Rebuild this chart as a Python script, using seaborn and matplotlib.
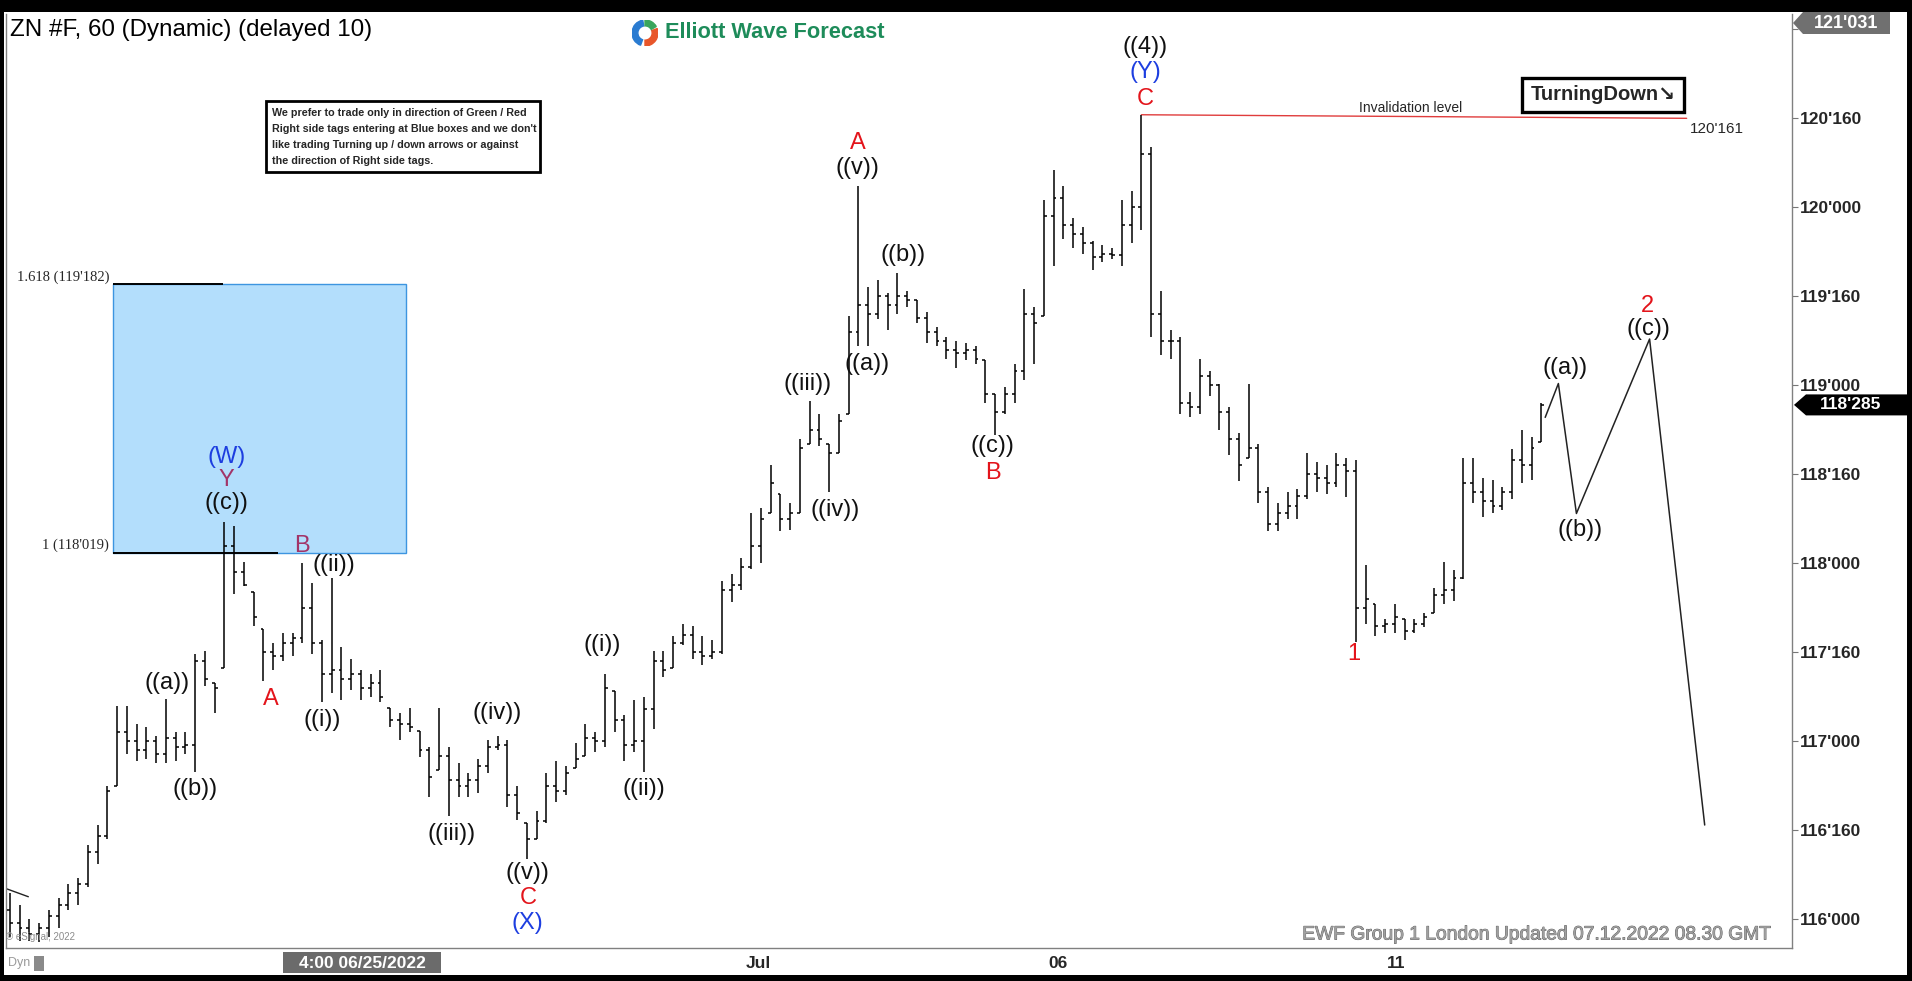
import numpy as np
import matplotlib
matplotlib.use("Agg")
import matplotlib.pyplot as plt
import seaborn as sns
from matplotlib import font_manager, transforms
from matplotlib.patches import Rectangle, Polygon, Wedge
import matplotlib.patheffects as pe

# -----------------------------
# data: 2-hour OHLC bars of ZN (10y note futures), prices in points
# -----------------------------
highs = [
    116.15, 116.08, 116.00, 115.98, 116.05, 116.12, 116.20, 116.23, 116.42, 116.53,
    116.75, 117.20, 117.20, 117.10, 117.08, 117.03, 117.24, 117.05, 117.05, 117.49,
    117.51, 117.33, 118.23, 118.21, 118.01, 117.84, 117.63, 117.55, 117.61, 117.61,
    118.00, 117.89, 117.57, 117.92, 117.53, 117.46, 117.40, 117.38, 117.40, 117.19,
    117.16, 117.19, 117.06, 116.97, 117.19, 116.97, 116.88, 116.82, 116.90, 117.01,
    117.03, 117.01, 116.75, 116.54, 116.61, 116.82, 116.89, 116.86, 116.99, 117.10,
    117.05, 117.38, 117.28, 117.15, 117.23, 117.25, 117.51, 117.51, 117.59, 117.66,
    117.65, 117.59, 117.57, 117.90, 117.94, 118.03, 118.28, 118.31, 118.55, 118.39,
    118.34, 118.70, 118.91, 118.84, 118.67, 118.84, 119.39, 120.12, 119.55, 119.59,
    119.52, 119.63, 119.53, 119.48, 119.41, 119.33, 119.27, 119.25, 119.24, 119.22,
    119.14, 118.95, 118.99, 119.12, 119.54, 119.44, 120.04, 120.21, 120.12, 119.94,
    119.89, 119.81, 119.79, 119.77, 120.04, 120.09, 120.52, 120.34, 119.53, 119.31,
    119.27, 118.96, 119.15, 119.08, 119.01, 118.88, 118.73, 119.01, 118.67, 118.43,
    118.34, 118.40, 118.42, 118.62, 118.57, 118.55, 118.62, 118.59, 118.58, 117.99,
    117.77, 117.69, 117.77, 117.69, 117.69, 117.72, 117.86, 118.01, 117.96, 118.59,
    118.59, 118.48, 118.47, 118.43, 118.64, 118.75, 118.71, 118.90,
]
lows = [
    115.90, 115.88, 115.88, 115.87, 115.90, 115.95, 116.05, 116.08, 116.18, 116.31,
    116.45, 116.75, 116.93, 116.89, 116.90, 116.88, 116.88, 116.89, 116.93, 116.83,
    117.31, 117.16, 117.41, 117.83, 117.87, 117.65, 117.34, 117.40, 117.45, 117.48,
    117.55, 117.49, 117.22, 117.27, 117.23, 117.29, 117.23, 117.25, 117.22, 117.08,
    117.01, 117.05, 116.91, 116.69, 116.84, 116.58, 116.69, 116.69, 116.71, 116.82,
    116.95, 116.63, 116.56, 116.34, 116.45, 116.54, 116.66, 116.70, 116.85, 116.92,
    116.94, 116.97, 117.05, 116.89, 116.94, 116.83, 117.07, 117.36, 117.41, 117.54,
    117.46, 117.43, 117.46, 117.49, 117.78, 117.85, 117.97, 118.00, 118.28, 118.18,
    118.19, 118.28, 118.67, 118.66, 118.40, 118.62, 118.84, 119.22, 119.22, 119.37,
    119.31, 119.40, 119.44, 119.35, 119.24, 119.22, 119.15, 119.10, 119.14, 119.12,
    118.90, 118.72, 118.84, 118.90, 119.03, 119.12, 119.39, 119.67, 119.82, 119.77,
    119.74, 119.65, 119.69, 119.71, 119.67, 119.80, 119.87, 119.27, 119.17, 119.15,
    118.84, 118.82, 118.84, 118.94, 118.75, 118.61, 118.46, 118.59, 118.34, 118.18,
    118.18, 118.25, 118.25, 118.36, 118.40, 118.39, 118.43, 118.37, 117.56, 117.66,
    117.59, 117.61, 117.61, 117.57, 117.61, 117.64, 117.72, 117.77, 117.79, 117.91,
    118.34, 118.26, 118.28, 118.30, 118.36, 118.45, 118.47, 118.68,
]
closes = [
    115.98, 115.95, 115.92, 115.95, 116.02, 116.08, 116.15, 116.20, 116.38, 116.47,
    116.72, 117.05, 117.00, 116.95, 117.00, 116.93, 117.02, 116.97, 116.98, 117.45,
    117.35, 117.30, 118.10, 117.95, 117.88, 117.70, 117.50, 117.48, 117.55, 117.58,
    117.75, 117.55, 117.38, 117.40, 117.35, 117.38, 117.30, 117.33, 117.25, 117.12,
    117.10, 117.08, 116.95, 116.80, 116.92, 116.78, 116.75, 116.78, 116.86, 116.97,
    116.98, 116.70, 116.60, 116.45, 116.55, 116.75, 116.72, 116.82, 116.90, 117.02,
    117.00, 117.30, 117.12, 116.98, 117.00, 117.18, 117.45, 117.40, 117.55, 117.60,
    117.50, 117.48, 117.50, 117.85, 117.88, 117.98, 118.10, 118.25, 118.45, 118.25,
    118.28, 118.65, 118.75, 118.70, 118.62, 118.80, 119.30, 119.45, 119.40, 119.50,
    119.45, 119.50, 119.48, 119.38, 119.30, 119.25, 119.20, 119.18, 119.20, 119.15,
    118.95, 118.85, 118.95, 119.08, 119.40, 119.35, 119.95, 120.05, 119.90, 119.85,
    119.80, 119.72, 119.74, 119.73, 119.90, 120.00, 120.30, 119.40, 119.25, 119.25,
    118.90, 118.88, 119.05, 119.00, 118.85, 118.70, 118.55, 118.65, 118.40, 118.22,
    118.28, 118.32, 118.38, 118.50, 118.48, 118.45, 118.55, 118.52, 117.75, 117.80,
    117.65, 117.66, 117.70, 117.62, 117.66, 117.70, 117.82, 117.85, 117.92, 118.45,
    118.40, 118.35, 118.32, 118.40, 118.58, 118.55, 118.65, 118.89,
]
first_open = 116.05

# price axis (32nds notation); 121'000 sits under the 121'031 tag
price_ticks = [116.0, 116.5, 117.0, 117.5, 118.0, 118.5, 119.0, 119.5, 120.0, 120.5, 121.0]
price_labels = ["116'000", "116'160", "117'000", "117'160", "118'000", "118'160",
                "119'000", "119'160", "120'000", "120'160", ""]

# date axis (bar positions)
date_ticks = [36.4, 76.75, 107.5, 142.1]
date_labels = ["", "Jul", "06", "11"]

# blue box (fib extension area)
box_bottom, box_top = 118.059, 119.569
box_start, box_end = 10.6, 40.6

# invalidation
invalid_level = 120.50
last_price = 118.89

# projected path ((a)) ((b)) ((c))
proj_x = [157.4, 158.75, 160.6, 168.1, 173.75]
proj_y = [118.82, 119.01, 118.28, 119.26, 116.53]

BLACK, RED, BLUE, PURPLE = "#111111", "#e3141b", "#1d3ee0", "#a23468"
waves = [
    (22.25, 118.60, "(W)", BLUE), (22.25, 118.47, "Y", PURPLE), (22.25, 118.34, "((c))", BLACK),
    (16.1, 117.33, "((a))", BLACK), (19.0, 116.73, "((b))", BLACK),
    (26.75, 117.24, "A", RED), (29.9, 118.10, "B", PURPLE),
    (33.25, 117.99, "((ii))", BLACK), (32.0, 117.12, "((i))", BLACK),
    (45.25, 116.48, "((iii))", BLACK), (50.0, 117.16, "((iv))", BLACK),
    (53.1, 116.26, "((v))", BLACK), (53.1, 116.12, "C", RED), (53.1, 115.98, "(X)", BLUE),
    (60.75, 117.54, "((i))", BLACK), (65.0, 116.73, "((ii))", BLACK),
    (81.75, 119.01, "((iii))", BLACK), (84.6, 118.30, "((iv))", BLACK),
    (86.9, 120.36, "A", RED), (86.9, 120.22, "((v))", BLACK),
    (87.9, 119.12, "((a))", BLACK), (91.6, 119.73, "((b))", BLACK),
    (100.75, 118.66, "((c))", BLACK), (100.75, 118.51, "B", RED),
    (116.4, 120.90, "((4))", BLACK), (116.4, 120.76, "(Y)", BLUE), (116.4, 120.61, "C", RED),
    (137.75, 117.49, "1", RED),
    (159.4, 119.10, "((a))", BLACK), (161.0, 118.19, "((b))", BLACK),
    (167.9, 119.445, "2", RED), (168.0, 119.315, "((c))", BLACK),
]

# -----------------------------
# style
# -----------------------------
sns.set_style("white")
plt.rcParams['font.family'] = ['Liberation Sans', 'DejaVu Sans']
names = {f.name for f in font_manager.fontManager.ttflist}
narrow = 'Liberation Sans Narrow' if 'Liberation Sans Narrow' in names else 'Liberation Sans'

W, H = 1912, 981
def fx(px):
    return px / W
def fy(py):
    return 1 - py / H

fig = plt.figure(figsize=(W / 100, H / 100), dpi=100, facecolor="black")
fig.add_artist(Rectangle((fx(4), fy(975)), (1907 - 4) / W, (975 - 12) / H,
                         transform=fig.transFigure, facecolor="white",
                         edgecolor="none", zorder=-5))
ax = fig.add_axes([fx(6), fy(948), (1792 - 6) / W, (948 - 14) / H])
ax.set_facecolor("white")

# -----------------------------
# OHLC bars
# -----------------------------
idx = np.arange(len(highs))
opens = np.clip([first_open] + closes[:-1], lows, highs)
ax.vlines(idx, lows, highs, color="black", lw=1.1, zorder=3)
ax.hlines(opens, idx - 0.3, idx, color="black", lw=1.1, zorder=3)
ax.hlines(closes, idx, idx + 0.3, color="black", lw=1.1, zorder=3)

# small trendline stub at the start
ax.plot([-0.45, 1.9], [116.174, 116.127], color="#222222", lw=1)

# blue box
ax.add_patch(Rectangle((box_start, box_bottom), box_end - box_start, box_top - box_bottom,
                       facecolor="#b3defc", edgecolor="#3d95e0", lw=1, zorder=1))
ax.hlines(box_top, box_start, 21.9, color="black", lw=1.4, zorder=2)
ax.hlines(box_bottom, box_start, 27.5, color="black", lw=1.4, zorder=2)
ax.text(10.2, box_top + 0.04, "1.618 (119'182)", ha="right", va="center",
        family="Liberation Serif", fontsize=10.5)
ax.text(10.2, box_bottom + 0.04, "1 (118'019)", ha="right", va="center",
        family="Liberation Serif", fontsize=10.5)

# invalidation line
ax.plot([116, 171.9], [highs[116], invalid_level], color="#e03c3c", lw=1)
ax.text(143.6, 120.56, "Invalidation level", ha="center", va="center", fontsize=10)
ax.text(172.25, 120.44, "120'161", ha="left", va="center", fontsize=11)

# projection
sns.lineplot(x=proj_x, y=proj_y, sort=False, estimator=None, color="#222222",
             lw=1.1, ax=ax)

# wave labels
for x, y, s, c in waves:
    ax.text(x, y, s, ha="center", va="center", fontsize=17, color=c)

# -----------------------------
# axes
# -----------------------------
ax.set_xlim(-0.39, 182.7)
ax.set_ylim(115.839, 121.086)
ax.yaxis.tick_right()
ax.set_yticks(price_ticks)
ax.set_yticklabels(price_labels, fontweight="bold", fontsize=12.5)
ax.set_xticks(date_ticks)
ax.set_xticklabels(date_labels, fontweight="bold", fontsize=12.5)
ax.tick_params(axis="y", direction="out", length=4, color="#777777", pad=2, left=False)
ax.tick_params(axis="x", direction="out", length=4, color="#777777", pad=2)
for side in ["left", "right", "bottom"]:
    ax.spines[side].set_color("#808080")
    ax.spines[side].set_linewidth(1)
ax.spines["top"].set_visible(False)

# -----------------------------
# price tags on the right axis
# -----------------------------
blend = transforms.blended_transform_factory(fig.transFigure, ax.transData)
hh = 10.5 / 178
fig.add_artist(Polygon([(fx(1794), last_price), (fx(1806), last_price + hh),
                        (fx(1912), last_price + hh), (fx(1912), last_price - hh),
                        (fx(1806), last_price - hh)], closed=True, transform=blend,
                       facecolor="black", edgecolor="none", zorder=5))
fig.text(fx(1851), last_price, "118'285", transform=blend, color="white",
         fontweight="bold", fontsize=12.5, ha="center", va="center", zorder=6)

fig.add_artist(Polygon([(fx(1793), fy(23)), (fx(1803), fy(12)), (fx(1890), fy(12)),
                        (fx(1890), fy(34)), (fx(1803), fy(34))], closed=True,
                       transform=fig.transFigure, facecolor="#707070",
                       edgecolor="none", zorder=5))
fig.text(fx(1846), fy(23), "121'031", color="white", fontweight="bold",
         fontsize=13, ha="center", va="center", zorder=6)

# crosshair date box
fig.add_artist(Rectangle((fx(283), fy(973)), 158 / W, 21 / H, transform=fig.transFigure,
                         facecolor="#6b6b6b", edgecolor="none", zorder=5))
fig.text(fx(362), fy(963), "4:00 06/25/2022", color="white", fontweight="bold",
         fontsize=12.5, ha="center", va="center", zorder=6)

# -----------------------------
# header and notes
# -----------------------------
renderer = fig.canvas.get_renderer()
def fit_width(t, target):
    w = t.get_window_extent(renderer).width
    t.set_fontsize(t.get_fontsize() * target / w)

title = fig.text(fx(10), fy(30), "ZN #F, 60 (Dynamic) (delayed 10)", fontsize=17,
                 ha="left", va="center", color="black")
fit_width(title, 364)

logo = fig.add_axes([fx(632), fy(46), 26 / W, 26 / H])
logo.set_xlim(-1, 1)
logo.set_ylim(-1, 1)
logo.set_aspect("equal")
logo.axis("off")
logo.add_patch(Wedge((0, 0), 1, 100, 250, width=0.45, color="#2a7bd1"))
logo.add_patch(Wedge((0, 0), 1, 270, 20, width=0.45, color="#e8562a"))
logo.add_patch(Wedge((0, 0), 1, 30, 90, width=0.45, color="#3aa55c"))
brand = fig.text(fx(665), fy(33), "Elliott Wave Forecast", fontsize=15.5,
                 fontweight="bold", color="#1e8c5a", ha="left", va="center")
fit_width(brand, 219)

fig.add_artist(Rectangle((fx(266), fy(172)), 274 / W, 71 / H, transform=fig.transFigure,
                         facecolor="white", edgecolor="black", lw=2, zorder=4))
note = fig.text(fx(272), fy(136.5),
                "We prefer to trade only in direction of Green / Red\n"
                "Right side tags entering at Blue boxes and we don't\n"
                "like trading Turning up / down arrows or against\n"
                "the direction of Right side tags.",
                fontsize=7.4, fontweight="bold", ha="left", va="center",
                linespacing=1.75, zorder=6)
fit_width(note, 264)

fig.add_artist(Rectangle((fx(1522), fy(112)), 162 / W, 34 / H, transform=fig.transFigure,
                         facecolor="white", edgecolor="black", lw=2.4, zorder=4))
turn = fig.text(fx(1603), fy(95), "TurningDown\u2198", fontsize=14, fontweight="bold",
                ha="center", va="center", zorder=6)
fit_width(turn, 146)

footer = fig.text(fx(1771), fy(935), "EWF Group 1 London Updated 07.12.2022 08.30 GMT",
                  family=narrow, fontsize=16, color="#a0a0a0", ha="right", va="center",
                  path_effects=[pe.withStroke(linewidth=0.6, foreground="#5a5a5a")])
fit_width(footer, 469)

fig.text(fx(6), fy(937), "\u00a9 eSignal, 2022", fontsize=7, color="#8c8c8c",
         ha="left", va="center")
fig.text(fx(8), fy(963), "Dyn", fontsize=9, color="#9a9a9a", ha="left", va="center")
fig.add_artist(Rectangle((fx(34), fy(971)), 10 / W, 15 / H, transform=fig.transFigure,
                         facecolor="#8a8a8a", edgecolor="none"))

fig.savefig("out.png", dpi=100, facecolor=fig.get_facecolor())
